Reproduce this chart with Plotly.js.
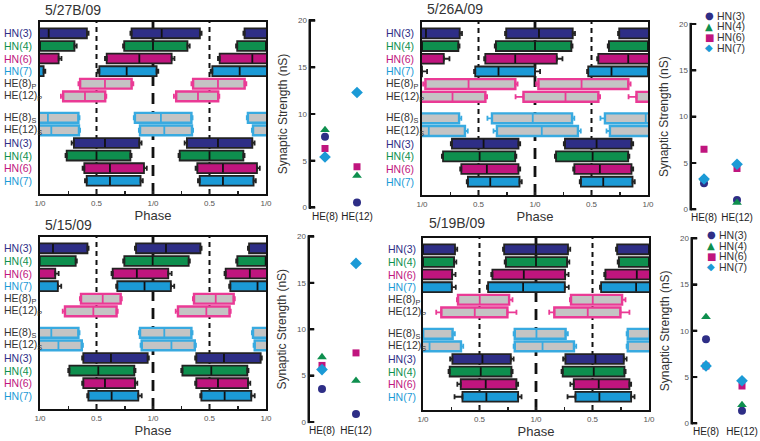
<!DOCTYPE html>
<html><head><meta charset="utf-8">
<script src="https://cdn.plot.ly/plotly-3.0.1.min.js"></script>
<style>html,body{margin:0;padding:0;background:#fff}#chart{width:760px;height:441px}</style>
</head><body><div id="chart"></div>
<script>
// ---------- DATA ----------
const titles = ['5/27B/09', '5/26A/09', '5/15/09', '5/19B/09'];
const rowLabels = ['HN(3)', 'HN(4)', 'HN(6)', 'HN(7)', 'HE(8)<sub>P</sub>', 'HE(12)<sub>P</sub>',
                   'HE(8)<sub>S</sub>', 'HE(12)<sub>S</sub>', 'HN(3)', 'HN(4)', 'HN(6)', 'HN(7)'];
const rowKinds = ['hn3', 'hn4', 'hn6', 'hn7', 'hep', 'hep', 'hes', 'hes', 'hn3', 'hn4', 'hn6', 'hn7'];
const phaseTickVals = [0, 0.25, 0.5, 0.75, 1, 1.25, 1.5, 1.75, 2];
const phaseTickText = ['1/0', '', '0.5', '', '1/0', '', '0.5', '', '1/0'];
const strengthTicks = [0, 5, 10, 15, 20];
const heCategories = ['HE(8)', 'HE(12)'];
const seriesNames = ['HN(3)', 'HN(4)', 'HN(6)', 'HN(7)'];

// burst onset / offset / median phase, and SD whiskers (phase units)
const p1On   = [0.81, 0.745, 0.59, 0.525, 0.355, 0.205, 0.84, 0.885, 0.30, 0.236, 0.392, 0.413];
const p1Off  = [1.415, 1.305, 1.165, 1.032, 0.811, 0.577, 1.34, 1.345, 0.879, 0.80, 0.92, 0.89];
const p1Mid  = [1.077, 1.0, 0.879, 0.767, 0.575, 0.398, 1.07, 1.10, 0.575, 0.50, 0.619, 0.619];
const p1ErrL = [0.01, 0.01, 0.015, 0.015, 0.015, 0.02, 0.01, 0.01, 0.02, 0.01, 0.015, 0.015];
const p1ErrR = [0.015, 0.02, 0.025, 0.015, 0.015, 0.01, 0.01, 0.01, 0.02, 0.01, 0.025, 0.02];

const p2On   = [0.745, 0.654, 0.56, 0.471, 0.03, 0.898, 0.619, 0.663, 0.265, 0.186, 0.348, 0.406];
const p2Off  = [1.334, 1.322, 1.193, 1.0, 0.826, 1.561, 1.328, 1.38, 0.854, 0.825, 0.854, 0.863];
const p2Mid  = [1.035, 1.0, 0.825, 0.677, 0.412, 1.27, 0.98, 1.06, 0.545, 0.51, 0.574, 0.604];
const p2ErrL = [0.01, 0.01, 0.01, 0.01, 0.02, 0.07, 0.04, 0.03, 0.01, 0.01, 0.01, 0.01];
const p2ErrR = [0.02, 0.01, 0.05, 0.045, 0.02, 0.015, 0.02, 0.025, 0.015, 0.01, 0.015, 0.02];

const p3On   = [0.85, 0.746, 0.643, 0.684, 0.363, 0.221, 0.885, 0.90, 0.383, 0.26, 0.383, 0.428];
const p3Off  = [1.42, 1.316, 1.135, 1.158, 0.714, 0.678, 1.34, 1.37, 0.953, 0.835, 0.841, 0.87];
const p3Mid  = [1.115, 0.997, 0.857, 0.925, 0.555, 0.472, 1.10, 1.163, 0.628, 0.516, 0.575, 0.634];
const p3ErrL = [0.01, 0.01, 0.01, 0.01, 0.01, 0.02, 0.01, 0.01, 0.01, 0.01, 0.01, 0.01];
const p3ErrR = [0.01, 0.01, 0.03, 0.03, 0.01, 0.01, 0.01, 0.01, 0.01, 0.01, 0.02, 0.03];

const p4On   = [0.718, 0.733, 0.614, 0.576, 0.31, 0.162, 0.812, 0.812, 0.26, 0.236, 0.334, 0.349];
const p4Off  = [1.283, 1.275, 1.258, 1.255, 0.762, 0.747, 1.262, 1.336, 0.777, 0.783, 0.827, 0.842];
const p4Mid  = [1.0, 1.0, 0.892, 0.886, 0.502, 0.458, 1.004, 1.058, 0.526, 0.511, 0.555, 0.561];
const p4ErrL = [0.01, 0.01, 0.01, 0.01, 0.01, 0.045, 0.01, 0.01, 0.02, 0.01, 0.03, 0.07];
const p4ErrR = [0.02, 0.02, 0.03, 0.035, 0.03, 0.08, 0.02, 0.02, 0.025, 0.01, 0.015, 0.03];

// synaptic strength (nS) onto [HE(8), HE(12)]
const s1HN3 = [7.57, 0.54], s1HN4 = [8.3, 3.4],  s1HN6 = [6.3, 4.35],  s1HN7 = [5.4, 12.3];
const s2HN3 = [2.8, 1.0],   s2HN4 = [3.35, 0.72], s2HN6 = [6.47, 4.4], s2HN7 = [3.27, 4.86];
const s3HN3 = [3.56, 0.86], s3HN4 = [7.0, 4.46], s3HN6 = [6.1, 7.45],  s3HN7 = [5.65, 17.1];
const s4HN3 = [9.1, 1.37],  s4HN4 = [11.5, 1.98], s4HN6 = [6.2, 4.04], s4HN7 = [6.2, 4.6];

// ---------- STYLE / LAYOUT ----------
const W = 760, H = 441;
const fx = p => p / W, fy = p => 1 - p / H;
const FONT = 'Arial, "Liberation Sans", Helvetica, sans-serif';
const ROWPOS = [0, 1, 2, 3, 4, 5, 6.7, 7.7, 8.7, 9.7, 10.7, 11.7];
const CYCLES = [-1, 0, 1, 2];
const PINK = '#ea3a95', SKY = '#38aae0', GREY = '#c4c4c4', DARK = '#222222';
const kindStyle = {
  hn3: {fill: '#2e2e86', line: DARK, lw: 1.8, mid: '#111', label: '#2e2e86', wcol: 'dark'},
  hn4: {fill: '#0e8f4e', line: DARK, lw: 1.8, mid: '#111', label: '#0e8f4e', wcol: 'dark'},
  hn6: {fill: '#c0157e', line: DARK, lw: 1.8, mid: '#111', label: '#c0157e', wcol: 'dark'},
  hn7: {fill: '#1b9ad6', line: DARK, lw: 1.8, mid: '#111', label: '#1b9ad6', wcol: 'dark'},
  hep: {fill: GREY, line: PINK, lw: 2.4, mid: PINK, label: '#333', wcol: 'pink'},
  hes: {fill: GREY, line: SKY, lw: 2.4, mid: SKY, label: '#333', wcol: 'sky'}
};
const wColors = {dark: DARK, pink: PINK, sky: SKY};
const seriesStyle = [
  {color: '#2e2e86', symbol: 'circle', size: 8, glyph: '\u25CF'},
  {color: '#0e8f4e', symbol: 'triangle-up', size: 8.5, glyph: '\u25B2'},
  {color: '#c0157e', symbol: 'square', size: 7, glyph: '\u25A0'},
  {color: '#1b9ad6', symbol: 'diamond', size: 9, glyph: '\u25C6'}
];

const panels = [
  {on: p1On, off: p1Off, mid: p1Mid, eL: p1ErrL, eR: p1ErrR, s: [s1HN3, s1HN4, s1HN6, s1HN7],
   box: [40, 266, 22, 194], labelX: 2, titleXY: [43, 10],
   sc: {x0: 311, x1: 378, y0px: 207.5, y20px: 20.5, range: [-0.4375, 1.656]}, legend: null},
  {on: p2On, off: p2Off, mid: p2Mid, eL: p2ErrL, eR: p2ErrR, s: [s2HN3, s2HN4, s2HN6, s2HN7],
   box: [422, 648, 22, 195], labelX: 384, titleXY: [425, 9],
   sc: {x0: 692, x1: 758, y0px: 209.3, y20px: 24, range: [-0.364, 1.636]}, legend: {gx: 709, tx: 715, ys: [16, 26.5, 37, 47.5]}},
  {on: p3On, off: p3Off, mid: p3Mid, eL: p3ErrL, eR: p3ErrR, s: [s3HN3, s3HN4, s3HN6, s3HN7],
   box: [40, 266, 237, 409], labelX: 2, titleXY: [43, 225],
   sc: {x0: 310, x1: 378, y0px: 422, y20px: 236.5, range: [-0.353, 1.647]}, legend: null},
  {on: p4On, off: p4Off, mid: p4Mid, eL: p4ErrL, eR: p4ErrR, s: [s4HN3, s4HN4, s4HN6, s4HN7],
   box: [423, 649, 238, 410], labelX: 386, titleXY: [427, 223],
   sc: {x0: 693, x1: 759, y0px: 423.3, y20px: 238.3, range: [-0.361, 1.472]}, legend: {gx: 711, tx: 717, ys: [235, 245.5, 256, 266.5]}}
];
const YPAD = 0.12; // strength-axis padding beyond 0..20

const traces = [], annotations = [], shapes = [];
const layout = {
  width: W, height: H, margin: {l: 0, r: 0, t: 0, b: 0},
  paper_bgcolor: '#ffffff', plot_bgcolor: '#ffffff',
  barmode: 'overlay', showlegend: false,
  font: {family: FONT, color: '#333'}
};

panels.forEach((P, i) => {
  const nA = 2 * i + 1, nB = 2 * i + 2;
  const xa = nA === 1 ? 'x' : 'x' + nA, ya = nA === 1 ? 'y' : 'y' + nA;
  const xb = 'x' + nB, yb = 'y' + nB;
  const xaKey = nA === 1 ? 'xaxis' : 'xaxis' + nA, yaKey = nA === 1 ? 'yaxis' : 'yaxis' + nA;

  // phase axes
  layout[xaKey] = {
    domain: [fx(P.box[0]), fx(P.box[1])], anchor: ya, range: [0, 2],
    showline: true, mirror: true, linewidth: 2, linecolor: '#111',
    showgrid: false, zeroline: false, ticks: 'inside', ticklen: 3, tickwidth: 1.5, tickcolor: '#222',
    tickmode: 'array', tickvals: phaseTickVals, ticktext: phaseTickText,
    tickfont: {size: 8, color: '#555', family: FONT},
    title: {text: 'Phase', font: {size: 13, color: '#333', family: FONT}, standoff: 2}
  };
  layout[yaKey] = {
    domain: [fy(P.box[3]), fy(P.box[2])], anchor: xa, range: [12.75, -0.9],
    showline: true, mirror: true, linewidth: 2, linecolor: '#111',
    showgrid: false, zeroline: false, showticklabels: false, ticks: ''
  };
  // scatter axes
  const pxPerUnit = (P.sc.y0px - P.sc.y20px) / 20;
  const yBotPx = P.sc.y0px + YPAD * pxPerUnit, yTopPx = P.sc.y20px - YPAD * pxPerUnit;
  const xr = P.sc.range;
  const pxPerX = (P.sc.x1 - P.sc.x0) / (xr[1] - xr[0]);
  layout['xaxis' + nB] = {
    domain: [fx(P.sc.x0), fx(P.sc.x1)], anchor: yb, range: xr,
    showline: false, showgrid: false, zeroline: false, ticks: '',
    tickmode: 'array', tickvals: [0, 1], ticktext: heCategories,
    tickfont: {size: 10, color: '#222', family: FONT}
  };
  layout['yaxis' + nB] = {
    domain: [fy(yBotPx), fy(yTopPx)], anchor: xb, range: [-YPAD, 20 + YPAD],
    showline: true, linewidth: 2.5, linecolor: '#111', showgrid: false, zeroline: false,
    ticks: 'inside', ticklen: 4, tickwidth: 2, tickcolor: '#111',
    tickmode: 'array', tickvals: strengthTicks,
    tickfont: {size: 8, color: '#555', family: FONT},
    title: {text: 'Synaptic Strength (nS)', font: {size: 12, color: '#333', family: FONT}, standoff: 8}
  };
  // axis line + ticks also drawn as shapes
  shapes.push({type: 'line', layer: 'above', xref: 'paper', yref: yb + ' domain',
    x0: fx(P.sc.x0 - 1.25), x1: fx(P.sc.x0 - 1.25), y0: 0, y1: 1, line: {color: '#111', width: 2.5}});
  strengthTicks.forEach(v => {
    shapes.push({type: 'line', layer: 'above', xref: 'paper', yref: yb,
      x0: fx(P.sc.x0 - 1), x1: fx(P.sc.x0 + 4), y0: v, y1: v, line: {color: '#111', width: 2}});
  });
  // and as an unclipped line trace along the axis edge (derived from the axis range)
  const edgeX = xr[0] - 1.25 / pxPerX;
  traces.push({
    type: 'scatter', mode: 'lines', xaxis: xb, yaxis: yb,
    x: [edgeX, edgeX], y: [-YPAD, 20 + YPAD], cliponaxis: false,
    line: {color: '#111', width: 2.5}, hoverinfo: 'skip', showlegend: false
  });
  traces.push({
    type: 'scatter', mode: 'markers', xaxis: xb, yaxis: yb,
    x: strengthTicks.map(() => xr[0] + 1.5 / pxPerX), y: strengthTicks, cliponaxis: false,
    marker: {symbol: 'line-ew-open', size: 4, color: '#111', line: {width: 2}},
    hoverinfo: 'skip', showlegend: false
  });

  // bars
  const midX = [], midY = [], midC = [];
  const wh = {dark: {x: [], y: [], p: [], m: []}, pink: {x: [], y: [], p: [], m: []}, sky: {x: [], y: [], p: [], m: []}};
  rowKinds.forEach((kind, r) => {
    const st = kindStyle[kind];
    traces.push({
      type: 'bar', orientation: 'h', xaxis: xa, yaxis: ya,
      y: CYCLES.map(() => ROWPOS[r]),
      base: CYCLES.map(k => P.on[r] + k),
      x: CYCLES.map(() => P.off[r] - P.on[r]),
      width: 0.78,
      marker: {color: st.fill, line: {color: st.line, width: st.lw}},
      hoverinfo: 'skip', showlegend: false
    });
    CYCLES.forEach(k => {
      midX.push(P.mid[r] + k); midY.push(ROWPOS[r]); midC.push(st.mid);
      const g = wh[st.wcol];
      g.x.push(P.on[r] + k); g.y.push(ROWPOS[r]); g.p.push(0); g.m.push(P.eL[r]);
      g.x.push(P.off[r] + k); g.y.push(ROWPOS[r]); g.p.push(P.eR[r]); g.m.push(0);
    });
  });
  traces.push({
    type: 'scatter', mode: 'markers', xaxis: xa, yaxis: ya, x: midX, y: midY,
    marker: {symbol: 'line-ns-open', size: 6.2, color: midC, line: {width: 1.8}},
    hoverinfo: 'skip', showlegend: false
  });
  Object.keys(wh).forEach(key => {
    const g = wh[key];
    traces.push({
      type: 'scatter', mode: 'markers', xaxis: xa, yaxis: ya, x: g.x, y: g.y,
      marker: {size: 1, color: 'rgba(0,0,0,0)'},
      error_x: {type: 'data', symmetric: false, array: g.p, arrayminus: g.m,
                color: wColors[key], thickness: 1.8, width: 2.5},
      hoverinfo: 'skip', showlegend: false
    });
  });

  // dashed phase reference lines
  [[0.5, '5px,4px', 2], [1.5, '5px,4px', 2], [1.0, '11px,7px', 2.8]].forEach(([v, d, w]) => {
    shapes.push({type: 'line', layer: 'below', xref: xa, yref: ya + ' domain',
      x0: v, x1: v, y0: 0, y1: 1, line: {color: '#111', width: w, dash: d}});
  });

  // row labels
  rowLabels.forEach((lab, r) => {
    annotations.push({xref: 'paper', yref: ya, x: fx(P.labelX), y: ROWPOS[r],
      xanchor: 'left', yanchor: 'middle', showarrow: false, text: lab,
      font: {size: 10.5, color: kindStyle[rowKinds[r]].label, family: FONT}});
  });
  // panel title
  annotations.push({xref: 'paper', yref: 'paper', x: fx(P.titleXY[0]), y: fy(P.titleXY[1]),
    xanchor: 'left', yanchor: 'middle', showarrow: false, text: titles[i],
    font: {size: 14, color: '#333', family: FONT}});

  // synaptic strength scatter
  P.s.forEach((vals, j) => {
    const ss = seriesStyle[j];
    traces.push({
      type: 'scatter', mode: 'markers', xaxis: xb, yaxis: yb, name: seriesNames[j],
      x: [0, 1], y: vals,
      marker: {symbol: ss.symbol, size: ss.size, color: ss.color, line: {width: 0}},
      showlegend: false
    });
  });
  if (P.legend) {
    seriesNames.forEach((nm, j) => {
      const ss = seriesStyle[j];
      annotations.push({xref: 'paper', yref: 'paper', x: fx(P.legend.gx), y: fy(P.legend.ys[j]),
        xanchor: 'center', yanchor: 'middle', showarrow: false, text: ss.glyph,
        font: {size: 10, color: ss.color, family: '"DejaVu Sans", sans-serif'}});
      annotations.push({xref: 'paper', yref: 'paper', x: fx(P.legend.tx), y: fy(P.legend.ys[j]),
        xanchor: 'left', yanchor: 'middle', showarrow: false, text: nm,
        font: {size: 10.5, color: '#333', family: FONT}});
    });
  }
});

layout.annotations = annotations;
layout.shapes = shapes;
Plotly.newPlot('chart', traces, layout, {staticPlot: true, displayModeBar: false});
</script>
</body></html>
